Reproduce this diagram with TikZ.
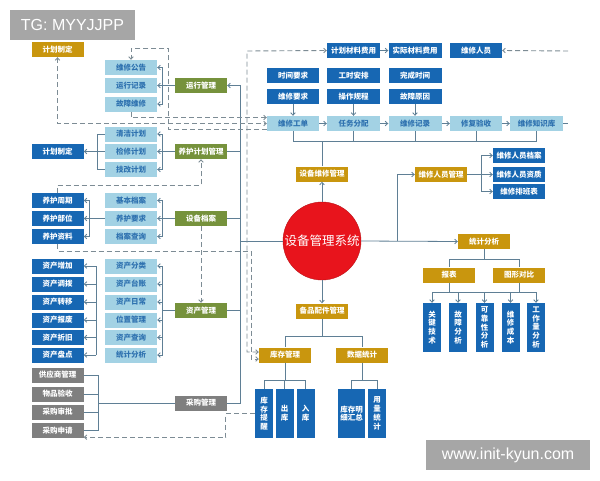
\documentclass[tikz,border=0pt]{standalone}
\usepackage{fontspec}
\setmainfont{Noto Sans CJK SC}
\newfontfamily\wmfont{Liberation Sans}
\usetikzlibrary{arrows.meta,calc}
\definecolor{cgold}{HTML}{C9960E}
\definecolor{colive}{HTML}{76923C}
\definecolor{cblue}{HTML}{1767B3}
\definecolor{clight}{HTML}{A3D2E4}
\definecolor{ctext}{HTML}{2F72B0}
\definecolor{cgray}{HTML}{7F7F7F}
\definecolor{cred}{HTML}{E8141C}
\definecolor{cline}{HTML}{5F7F95}
\definecolor{cdash}{HTML}{7D8C95}
\definecolor{cwm}{HTML}{A6A6A6}
\begin{document}
\begin{tikzpicture}[x=1pt,y=-1pt,
  >={Straight Barb[length=2.5pt,width=4.5pt]},
  bx/.style={minimum width=52pt,minimum height=15pt,inner sep=0pt,
    font=\fontsize{7.5}{9}\selectfont\bfseries,text=white},
  gold/.style={bx,fill=cgold},
  olive/.style={bx,fill=colive},
  dblue/.style={bx,fill=cblue},
  lblue/.style={bx,fill=clight,text=ctext},
  grayb/.style={bx,fill=cgray},
  vb/.style={bx,fill=cblue,minimum width=18pt,minimum height=49pt,text width=10pt,align=center,
    font=\fontsize{7.5}{8.8}\selectfont\bfseries},
  ln/.style={draw=cline,line width=0.8pt},
  dl/.style={draw=cdash,line width=0.9pt,dash pattern=on 5pt off 3pt},
  wm/.style={fill=cwm,text=white,inner sep=0pt,font=\wmfont\fontsize{16}{18}\selectfont}
]
\useasboundingbox (0,0) rectangle (600,480);
\fill[white] (0,0) rectangle (600,480);

% watermarks
\node[wm,minimum width=125pt,minimum height=30pt] (tg) at (72.5,25) {TG: MYYJJPP};
\node[wm,minimum width=164pt,minimum height=30pt] (url) at (508,455) {www.init-kyun.com};

% ---- left column
\node[gold] (jhzd1) at (57.5,49.5) {计划制定};
\node[lblue] (wxgg) at (131,67.5) {维修公告};
\node[lblue] (yxjl) at (131,85.5) {运行记录};
\node[lblue] (gzwx) at (131,104) {故障维修};
\node[olive] (yxgl) at (201,85.5) {运行管理};

\node[lblue] (qjjh) at (131,134) {清洁计划};
\node[lblue] (jxjh) at (131,151.5) {检修计划};
\node[lblue] (jgjh) at (131,169.5) {技改计划};
\node[dblue] (jhzd2) at (57.5,151.5) {计划制定};
\node[olive] (yhjhgl) at (201,151.5) {养护计划管理};

\node[dblue] (yhzq) at (57.5,200.5) {养护周期};
\node[dblue] (yhbw) at (57.5,218.5) {养护部位};
\node[dblue] (yhzl) at (57.5,236.5) {养护资料};
\node[lblue] (jbda) at (131,200.5) {基本档案};
\node[lblue] (yhyq) at (131,218.5) {养护要求};
\node[lblue] (dacx) at (131,236.5) {档案查询};
\node[olive] (sbda) at (201,218.5) {设备档案};

\node[dblue] (zczj) at (57.5,266) {资产增加};
\node[dblue] (zcdb) at (57.5,284) {资产调拨};
\node[dblue] (zczy) at (57.5,302) {资产转移};
\node[dblue] (zcbf) at (57.5,320) {资产报废};
\node[dblue] (zczj2) at (57.5,337.5) {资产折旧};
\node[dblue] (zcpd) at (57.5,355) {资产盘点};
\node[lblue] (zcfl) at (131,266) {资产分类};
\node[lblue] (zctz) at (131,284) {资产台账};
\node[lblue] (zcrc) at (131,302) {资产日常};
\node[lblue] (wzgl) at (131,320) {位置管理};
\node[lblue] (zccx) at (131,337.5) {资产查询};
\node[lblue] (tjfx2) at (131,355) {统计分析};
\node[olive] (zcgl) at (201,310.5) {资产管理};

\node[grayb] (gys) at (57.5,375) {供应商管理};
\node[grayb] (wpys) at (57.5,394) {物品验收};
\node[grayb] (cgsp) at (57.5,412) {采购审批};
\node[grayb] (cgsq) at (57.5,430.5) {采购申请};
\node[grayb] (cggl) at (201,403) {采购管理};

% ---- top area
\node[dblue,minimum width=53pt] (jhclfy) at (353.5,50.5) {计划材料费用};
\node[dblue,minimum width=53pt] (sjclfy) at (415,50.5) {实际材料费用};
\node[dblue] (wxry) at (476,50.5) {维修人员};
\node[dblue] (sjyq) at (293,75.5) {时间要求};
\node[dblue,minimum width=53pt] (gsap) at (353.5,75.5) {工时安排};
\node[dblue,minimum width=53pt] (wcsj) at (415,75.5) {完成时间};
\node[dblue] (wxyq) at (293,96.5) {维修要求};
\node[dblue,minimum width=53pt] (czgc) at (353.5,96.5) {操作规程};
\node[dblue,minimum width=53pt] (gzyy) at (415,96.5) {故障原因};
\node[lblue] (wxgd) at (293,123.5) {维修工单};
\node[lblue,minimum width=53pt] (rwfp) at (353.5,123.5) {任务分配};
\node[lblue,minimum width=53pt] (wxjl) at (415,123.5) {维修记录};
\node[lblue] (xfys) at (476,123.5) {修复验收};
\node[lblue,minimum width=53pt] (wxzsk) at (536.5,123.5) {维修知识库};

% ---- center / right
\node[circle,fill=cred,draw=cred!80!black,line width=0.4pt,minimum size=78pt,inner sep=0pt,text=white,
  font=\fontsize{12.5}{14}\selectfont] (circ) at (322,241) {设备管理系统};
\node[gold] (sbwxgl) at (322,174) {设备维修管理};
\node[gold] (wxrygl) at (441,174.5) {维修人员管理};
\node[dblue] (wxryda) at (519,155.5) {维修人员档案};
\node[dblue] (wxryzz) at (519,174.5) {维修人员资质};
\node[dblue] (wxpbb) at (519,191.5) {维修排班表};
\node[gold] (tjfx) at (484,241.5) {统计分析};
\node[gold] (bb) at (449,275) {报表};
\node[gold] (txdb) at (519,275) {图形对比};
\node[vb] (gjjs) at (432,327.5) {关\\键\\技\\术};
\node[vb] (gzfx) at (458,327.5) {故\\障\\分\\析};
\node[vb] (kkxfx) at (484.5,327.5) {可\\靠\\性\\分\\析};
\node[vb] (wxcb) at (510.5,327.5) {维\\修\\成\\本};
\node[vb] (gzlfx) at (536,327.5) {工\\作\\量\\分\\析};

\node[gold] (bpgl) at (322,311) {备品配件管理};
\node[gold] (kcgl) at (285,355) {库存管理};
\node[gold] (sjtj) at (362,355) {数据统计};
\node[vb] (kctx) at (264,413.5) {库\\存\\提\\醒};
\node[vb] (ck) at (284.5,413.5) {出\\库};
\node[vb] (rk) at (305.5,413.5) {入\\库};
\node[vb,minimum width=27pt,text width=24pt] (kcmx) at (351.5,413.5) {库存明\\细汇总};
\node[vb] (yltj) at (377,413.5) {用\\量\\统\\计};

% ---- solid connectors, left
\foreach \n in {wxgg,yxjl,gzwx} \draw[ln,->] (yxgl.west) -- ++(-12,0) |- (\n.east);
\foreach \n in {qjjh,jxjh,jgjh} \draw[ln,->] (yhjhgl.west) -- ++(-12,0) |- (\n.east);
\draw[ln] (qjjh.west) -| ($(jgjh.west)+(-7,0)$) -- (jgjh.west);
\draw[ln,->] (jxjh.west) -- (jhzd2.east);
\foreach \n in {jbda,yhyq,dacx} \draw[ln,->] (sbda.west) -- ++(-12,0) |- (\n.east);
\foreach \n in {yhzq,yhbw,yhzl} \draw[ln,->] (yhyq.west) -- ++(-15,0) |- (\n.east);
\foreach \n in {zcfl,zctz,zcrc,wzgl,zccx,tjfx2} \draw[ln,->] (zcgl.west) -- ++(-12,0) |- (\n.east);
\coordinate (ab) at (96,310);
\draw[ln] (ab |- zczj.east) -- (ab |- zcpd.east);
\foreach \n in {zczj,zcdb,zczy,zcbf,zczj2,zcpd} \draw[ln,->] (ab |- \n.east) -- (\n.east);
\draw[ln] (gys.east) -| ($(cgsq.east)+(15,0)$) -- (cgsq.east);
\draw[ln] (wpys.east) -- ++(15,0);
\draw[ln] (cgsp.east) -- ++(15,0);
\draw[ln] (cggl.west) -- ++(-77,0);

% main bus
\coordinate (bus) at (240,0);
\draw[ln,->] (cggl.east) -- (cggl.east -| bus) -- (yxgl.east -| bus) -- (yxgl.east);
\foreach \n in {yhjhgl,sbda,zcgl} \draw[ln] (\n.east) -- (\n.east -| bus);
\draw[ln] (circ.west) -- (circ.west -| bus);

% top area
\draw[ln,->] (jhclfy.east) -- (sjclfy.west);
\draw[ln,->] (wxyq.south) -- (wxgd.north);
\draw[ln,->] (czgc.south) -- (rwfp.north);
\draw[ln,->] (gzyy.south) -- (wxjl.north);
\draw[ln,->] (wxgd.east) -- (rwfp.west);
\draw[ln,->] (rwfp.east) -- (wxjl.west);
\draw[ln,->] (wxjl.east) -- (xfys.west);
\draw[ln,->] (xfys.east) -- (wxzsk.west);
\coordinate (busy) at (0,141);
\draw[ln] (wxgd.south) -- (wxgd.south |- busy) -- (wxzsk.south |- busy) -- (wxzsk.south);
\foreach \n in {rwfp,wxjl,xfys} \draw[ln] (\n.south) -- (\n.south |- busy);
\draw[ln] (sbwxgl.north) -- (sbwxgl.north |- busy);
\draw[ln] (wxzsk.east) -- ++(5,0);
\coordinate (rt) at (568,51);
\draw[dl,->] (rt) -- (wxry.east);

% center / right
\draw[ln,->] (circ.north) -- (sbwxgl.south);
\draw[ln,->] (circ.south) -- (bpgl.north);
\draw[ln,->] (circ.east) -- (tjfx.west);
\coordinate (sp) at (397,241);
\draw[ln,->] (sp) |- (wxrygl.west);
\foreach \n in {wxryda,wxryzz,wxpbb} \draw[ln,->] (wxrygl.east) -- ++(14,0) |- (\n.west);
\draw[ln] (tjfx.south) -- ++(0,10.5) -| (bb.north);
\draw[ln] (tjfx.south) -- ++(0,10.5) -| (txdb.north);
\coordinate (bus2) at (0,292);
\draw[ln] (bb.south) -- (bb.south |- bus2);
\draw[ln] (txdb.south) -- (txdb.south |- bus2);
\draw[ln] (gjjs.north |- bus2) -- (gzlfx.north |- bus2);
\foreach \n in {gjjs,gzfx,kkxfx,wxcb,gzlfx} \draw[ln,->] (\n.north |- bus2) -- (\n.north);
\draw[ln] (bpgl.south) -- ++(0,18) -| (kcgl.north);
\draw[ln] (bpgl.south) -- ++(0,18) -| (sjtj.north);
\foreach \n in {kctx,ck,rk} \draw[ln] (kcgl.south) -- ++(0,18) -| (\n.north);
\foreach \n in {kcmx,yltj} \draw[ln] (sjtj.south) -- ++(0,18) -| (\n.north);

% dashed connectors
\draw[dl,->] ($(wxgd.west)+(0,6)$) -| (168,48) -| (wxgg.north);
\draw[dl,->] (gzwx.south) |- ($(wxgd.west)+(0,-6)$);
\draw[dl,<->] (jhzd1.south) |- (wxgd.west);
\draw[dl,->] (yhzq.north) |- (201,185) -- (yhjhgl.south);
\draw[dl,->] (sbda.south) -- (zcgl.north);
\draw[dl,->] (yhzl.south) |- (251,251) |- ($(kcgl.west)+(0,4)$);
\draw[dl,<->] ($(kcgl.west)+(0,-3)$) -| (247,51) -- (jhclfy.west);
\draw[dl,->] (kctx.west) -- ++(-29,0) |- ($(cgsq.south east)+(0,-1)$);
\end{tikzpicture}
\end{document}
